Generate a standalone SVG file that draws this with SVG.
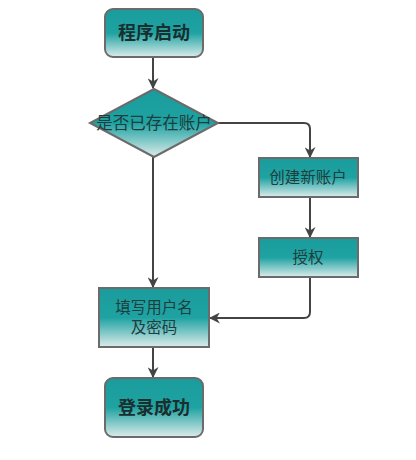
<svg xmlns="http://www.w3.org/2000/svg" width="416" height="460" viewBox="0 0 416 460">
<defs>
<linearGradient id="g" x1="0" y1="0" x2="0" y2="1">
<stop offset="0" stop-color="#1a9c9c"/>
<stop offset="0.5" stop-color="#1fa2a2"/>
<stop offset="1" stop-color="#dcecea"/>
</linearGradient>
<marker id="ah" markerWidth="11" markerHeight="11" viewBox="0 0 10 10" refX="9" refY="5" orient="auto" markerUnits="userSpaceOnUse">
<path d="M0,0 L10,5 L0,10 L3,5 z" fill="#444"/>
</marker>
<style>
.n{fill:url(#g);stroke:#6b6b6b;stroke-width:2}
.t{font-family:"Noto Sans CJK SC","Noto Sans",sans-serif;font-size:15.5px;fill:#1e3d3d;text-anchor:middle}
.d{font-size:16.5px}
.b{font-family:"Noto Sans CJK SC","Noto Sans",sans-serif;font-size:18px;font-weight:bold;fill:#1a2e2e;text-anchor:middle}
.c{fill:none;stroke:#444;stroke-width:2}
</style>
</defs>
<g id="connectors">
<path class="c" d="M153,57 V88" marker-end="url(#ah)"/>
<path class="c" d="M218,123 H304 Q310,123 310,129 V157" marker-end="url(#ah)"/>
<path class="c" d="M310,197 V237" marker-end="url(#ah)"/>
<path class="c" d="M153,157 V287" marker-end="url(#ah)"/>
<path class="c" d="M310,277 V312 Q310,318 304,318 H210" marker-end="url(#ah)"/>
<path class="c" d="M153,347 V377" marker-end="url(#ah)"/>
</g>
<g id="start">
<rect class="n" x="105" y="9" width="98" height="48" rx="8"/>
<text class="b" x="154" y="39">程序启动</text>
</g>
<g id="decision">
<polygon class="n" points="154,89 218,123 154,157 90,123"/>
<text class="t d" x="154" y="129">是否已存在账户</text>
</g>
<g id="create">
<rect class="n" x="259" y="158" width="99" height="39"/>
<text class="t" x="308" y="183">创建新账户</text>
</g>
<g id="auth">
<rect class="n" x="259" y="238" width="99" height="39"/>
<text class="t" x="308" y="263">授权</text>
</g>
<g id="fill">
<rect class="n" x="99" y="288" width="110" height="59"/>
<text class="t" x="154" y="313">填写用户名</text>
<text class="t" x="154" y="333">及密码</text>
</g>
<g id="end">
<rect class="n" x="105" y="378" width="98" height="59" rx="8"/>
<text class="b" x="154" y="414">登录成功</text>
</g>
</svg>
